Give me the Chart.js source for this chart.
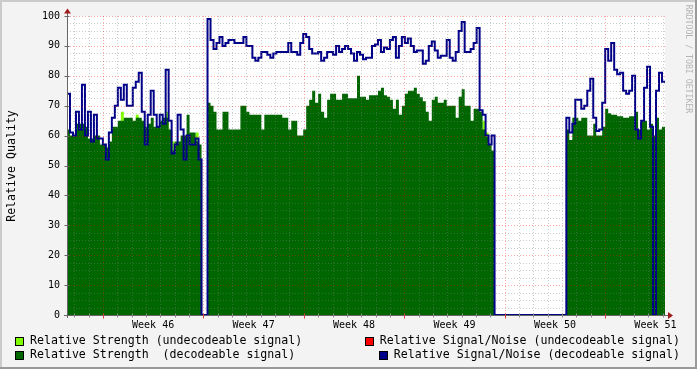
<!DOCTYPE html>
<html><head><meta charset="utf-8">
<script src="https://cdn.jsdelivr.net/npm/chart.js@4/dist/chart.umd.min.js"></script>
<style>
html,body{margin:0;padding:0;background:#f3f3f3;}
canvas{display:block;}
</style></head><body>
<canvas id="c" width="697" height="369"></canvas>
<script>
// time axis: hours relative to the start of Week 46
const startHour = -60;
const stepHours = 5;
const endHour = 940;

const yTicks = [0,10,20,30,40,50,60,70,80,90,100];
const weekLabels = ['Week 46','Week 47','Week 48','Week 49','Week 50','Week 51'];
const weekLabelHours = [84,252,420,588,756,924];

// Relative Signal/Noise (decodeable signal)
const snrDecoded = [
 74,61,60,68,62,77,60,68,58,67, 59,59,57,52,61,66,70,76,72,77,
 70,70,76,78,81,68,57,67,75,67, 63,67,64,82,65,54,57,67,62,52,
 60,57,57,59,52,0,0,99,92,89, 91,93,90,91,92,92,91,91,91,93,
 90,90,86,85,86,88,88,87,86,87.5, 88,88,88,88,91,88,88,87,91,94,
 93,89,87.5,87.5,88,85,86,88,88,87, 90,88,89,90,89,87.5,85,88,87,85.5,
 86,86,90,90.5,92,88,89.5,89,92,93, 86,90,93,91,92.5,90,88,88.5,88.5,84,
 85,90,91.5,88.5,86,86.7,86.7,92,86,85, 88,95,98,88,88,89,91,96,68.5,67,
 60,57,60,0,0,0,0,0,0,0, 0,0,0,0,0,0,0,0,0,0,
 0,0,0,0,0,0,0,66,61,64, 72,72,69,70,75,79,66,61.5,62,71,
 89,85,91,82,80.5,81,75,74,75,80, 62,59,65,76,83,63,0,75,81,78
];
// Relative Strength (decodeable signal)
const strengthDecoded = [
 62,60,60,64,64,64,63,59,59,60, 60,57,57,56,58,63,63,65,65,66,
 66,66,65,66,66,65,63,64,66,63, 63,65,66,66,62,55,58,58,60,60,
 67,61,61,58,57,0,0,71,70,68, 62,62,68,68,62,62,62,62,70,70,
 68,67,67,67,67,62,67,67,67,67, 67,67,66,66,62,65,65,60,60,62,
 70,72,75,71,74,68,66,72,74,74, 72,72,74,74,72.5,72.5,72.5,80,73,73,
 72,73.5,73.5,73.5,75,76,73.5,73,72,69, 72,67,70,74,75,75,76,74,72.8,71.5,
 68,65,72,73,71,71,72,70,70,70, 66,73,75.5,70,70,65,69,69,68,62,
 59.5,57,55,0,0,0,0,0,0,0, 0,0,0,0,0,0,0,0,0,0,
 0,0,0,0,0,0,0,62,58.5,66, 66,65,66,66,60,60,64,60,60,63,
 69,67.5,67,67,66.5,66.5,66,66,66.5,66.5, 68,62,65,65,62,64,60,66,62,63
];
// Relative Strength (undecodeable signal)
const strengthUndecoded = [
 0,0,0,0,0,0,0,0,0,0, 0,0,0,0,0,0,0,0,68,0,
 0,0,0,67,0,0,0,0,0,0, 0,0,0,68,0,58,0,0,0,0,
 0,0,0,61,0,0,0,0,0,0, 0,0,0,0,0,0,0,0,0,0,
 0,0,0,0,0,0,0,0,0,0, 0,0,0,0,0,0,0,0,0,0,
 0,0,0,0,0,0,0,0,0,0, 0,0,0,0,0,0,0,0,0,0,
 0,0,0,0,0,0,0,0,0,0, 0,0,0,0,0,0,0,0,0,0,
 0,0,0,0,0,0,0,0,0,0, 0,0,0,0,0,0,0,0,0,65,
 61,0,0,0,0,0,0,0,0,0, 0,0,0,0,0,0,0,0,0,0,
 0,0,0,0,0,0,0,0,0,0, 0,0,0,0,0,0,0,0,0,0,
 0,0,0,0,0,0,0,0,0,0, 0,0,0,0,0,0,0,0,0,0
];

const legendItems = [
 {label:'Relative Strength (undecodeable signal)', color:'#80ff00', row:0, side:'left'},
 {label:'Relative Signal/Noise (undecodeable signal)', color:'#ff0000', row:0, side:'right'},
 {label:'Relative Strength  (decodeable signal)', color:'#006600', row:1, side:'left'},
 {label:'Relative Signal/Noise (decodeable signal)', color:'#000088', row:1, side:'right'}
];

function toPoints(vals){
  const pts = vals.map((v,i)=>({x:startHour+i*stepHours, y:v}));
  pts.push({x:startHour+vals.length*stepHours, y:vals[vals.length-1]});
  return pts;
}

const MONO = '"DejaVu Sans Mono", "Liberation Mono", monospace';

const rrdPlugin = {
  id:'rrd',
  beforeDraw(chart){
    const {ctx, chartArea:a} = chart;
    ctx.save();
    ctx.fillStyle='#f3f3f3'; ctx.fillRect(0,0,697,369);
    ctx.fillStyle='#cbcbcb'; ctx.fillRect(0,0,697,2); ctx.fillRect(0,0,2,369);
    ctx.fillStyle='#999999'; ctx.fillRect(0,367,697,2); ctx.fillRect(695,0,2,369);
    ctx.fillStyle='#ffffff'; ctx.fillRect(a.left,a.top,a.right-a.left,a.bottom-a.top);
    ctx.restore();
  },
  afterDatasetsDraw(chart){
    const {ctx, chartArea:a, scales:{x,y}} = chart;
    ctx.save();
    ctx.lineWidth=1;
    ctx.setLineDash([1,2]);
    // minor horizontal grid
    for(let v=0; v<=100; v+=2.5){
      const py = Math.round(y.getPixelForValue(v))+0.5;
      const major = (v%10===0);
      ctx.strokeStyle = major ? 'rgba(255,0,0,0.35)' : 'rgba(128,128,128,0.4)';
      ctx.beginPath(); ctx.moveTo(a.left,py); ctx.lineTo(a.right,py); ctx.stroke();
    }
    // vertical grid: days and weeks
    for(let h=-48; h<=endHour; h+=24){
      const px = Math.round(x.getPixelForValue(h))+0.5;
      const major = (h%168===0);
      ctx.strokeStyle = major ? 'rgba(255,0,0,0.35)' : 'rgba(128,128,128,0.4)';
      ctx.beginPath(); ctx.moveTo(px,a.top); ctx.lineTo(px,a.bottom); ctx.stroke();
    }
    ctx.setLineDash([]);
    // axes
    const ax = Math.round(a.left)+0.5, ay = Math.round(a.bottom)+0.5;
    ctx.strokeStyle='#666666';
    ctx.beginPath(); ctx.moveTo(ax, a.bottom+3); ctx.lineTo(ax, a.top-4); ctx.stroke();
    ctx.beginPath(); ctx.moveTo(a.left-3, ay); ctx.lineTo(a.right+4, ay); ctx.stroke();
    // ticks
    for(let h=-48; h<=endHour; h+=24){
      const px = Math.round(x.getPixelForValue(h))+0.5;
      const major = (h%168===0);
      ctx.strokeStyle = major ? '#d04040' : '#888888';
      ctx.beginPath(); ctx.moveTo(px, ay-2); ctx.lineTo(px, ay+(major?3:2)); ctx.stroke();
    }
    for(const v of yTicks){
      const py = Math.round(y.getPixelForValue(v))+0.5;
      ctx.strokeStyle='#666666';
      ctx.beginPath(); ctx.moveTo(ax-3, py); ctx.lineTo(ax+2, py); ctx.stroke();
    }
    // arrows
    ctx.fillStyle='#a01c1c';
    ctx.beginPath(); ctx.moveTo(ax-3.5, a.top-2.5); ctx.lineTo(ax+3.5, a.top-2.5); ctx.lineTo(ax, a.top-7.5); ctx.closePath(); ctx.fill();
    ctx.beginPath(); ctx.moveTo(a.right+3, ay-3.5); ctx.lineTo(a.right+3, ay+3.5); ctx.lineTo(a.right+8, ay); ctx.closePath(); ctx.fill();
    // y labels
    ctx.fillStyle='#000';
    ctx.font='10px '+MONO;
    ctx.textAlign='right'; ctx.textBaseline='middle';
    for(const v of yTicks){
      ctx.fillText(String(v), a.left-7, y.getPixelForValue(v));
    }
    // week labels
    ctx.textAlign='center';
    weekLabels.forEach((lab,i)=>{
      ctx.fillText(lab, x.getPixelForValue(weekLabelHours[i]), a.bottom+10);
    });
    // y title
    ctx.save();
    ctx.font='11.6px '+MONO;
    ctx.translate(12, (a.top+a.bottom)/2+0.5);
    ctx.rotate(-Math.PI/2);
    ctx.textAlign='center'; ctx.textBaseline='middle';
    ctx.fillText('Relative Quality', 0, 0);
    ctx.restore();
    // watermark
    ctx.save();
    ctx.font='8.2px '+MONO;
    ctx.fillStyle='#b4b4b4';
    ctx.translate(688, 59);
    ctx.rotate(Math.PI/2);
    ctx.textAlign='center'; ctx.textBaseline='middle';
    ctx.fillText('RRDTOOL / TOBI OETIKER', 0, 0);
    ctx.restore();
    // legend
    ctx.font='11.6px '+MONO;
    ctx.textAlign='left'; ctx.textBaseline='middle';
    const rowY=[341,355];
    for(const it of legendItems){
      const cy=rowY[it.row];
      let tx;
      if(it.side==='left'){ tx=30; }
      else { tx = 680 - ctx.measureText(it.label).width; }
      const sx = Math.round(tx-15);
      ctx.fillStyle=it.color; ctx.fillRect(sx, Math.round(cy-4.5), 9, 9);
      ctx.strokeStyle='#000'; ctx.lineWidth=1;
      ctx.strokeRect(sx+0.5, Math.round(cy-4.5)+0.5, 8, 8);
      ctx.fillStyle='#000';
      ctx.fillText(it.label, tx, cy);
    }
    ctx.restore();
  }
};

new Chart(document.getElementById('c'), {
  type:'line',
  data:{
    datasets:[
      {label:'Relative Signal/Noise (decodeable signal)', data:toPoints(snrDecoded), borderColor:'#000088', borderWidth:2, stepped:true, pointRadius:0, fill:false, order:0},
      {label:'Relative Strength  (decodeable signal)', data:toPoints(strengthDecoded), borderWidth:0, borderColor:'rgba(0,0,0,0)', backgroundColor:'#006600', stepped:true, pointRadius:0, fill:'origin', order:1},
      {label:'Relative Strength (undecodeable signal)', data:toPoints(strengthUndecoded), borderWidth:0, borderColor:'rgba(0,0,0,0)', backgroundColor:'#80ff00', stepped:true, pointRadius:0, fill:'origin', order:2}
    ]
  },
  options:{
    responsive:false, animation:false, devicePixelRatio:1,
    layout:{padding:{left:67, right:32, top:16, bottom:54}},
    plugins:{legend:{display:false}, tooltip:{enabled:false}},
    scales:{
      x:{type:'linear', min:startHour, max:endHour, display:false},
      y:{min:0, max:100, display:false}
    }
  },
  plugins:[rrdPlugin]
});
</script>
</body></html>
